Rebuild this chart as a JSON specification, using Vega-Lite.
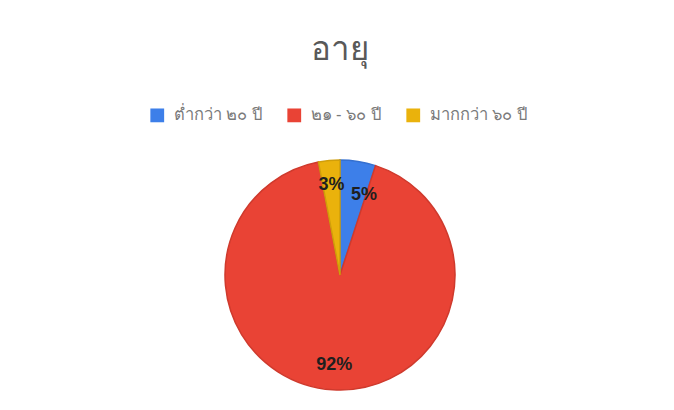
{
  "$schema": "https://vega.github.io/schema/vega-lite/v6.json",
  "width": 660,
  "height": 270,
  "autosize": {"type": "none"},
  "padding": {"left": 10, "top": 140, "right": 4, "bottom": 0},
  "background": "white",
  "title": {"text": "อายุ", "fontSize": 33, "color": "#595959", "fontWeight": "normal", "offset": 40, "anchor": "middle"},
  "data": {"values": [
    {"group": "ต่ำกว่า ๒๐ ปี", "value": 5, "order": 1, "label": "5%"},
    {"group": "๒๑ - ๖๐ ปี", "value": 92, "order": 2, "label": "92%"},
    {"group": "มากกว่า ๖๐ ปี", "value": 3, "order": 3, "label": "3%"}
  ]},
  "encoding": {
    "theta": {"field": "value", "type": "quantitative", "stack": true},
    "order": {"field": "order", "type": "quantitative"}
  },
  "layer": [
    {
      "mark": {"type": "arc", "outerRadius": 115, "strokeWidth": 1.5},
      "encoding": {
        "color": {
          "field": "group", "type": "nominal",
          "scale": {"domain": ["ต่ำกว่า ๒๐ ปี", "๒๑ - ๖๐ ปี", "มากกว่า ๖๐ ปี"], "range": ["#3d7fe9", "#e94335", "#eab20c"]},
          "legend": {"title": null, "orient": "none", "legendX": 139, "legendY": -33, "direction": "horizontal", "symbolType": "square", "symbolSize": 190, "symbolStrokeWidth": 0, "labelFontSize": 16.5, "labelColor": "#7a7a7a", "labelOffset": 8, "columnPadding": 24}
        },
        "stroke": {
          "field": "group", "type": "nominal",
          "scale": {"domain": ["ต่ำกว่า ๒๐ ปี", "๒๑ - ๖๐ ปี", "มากกว่า ๖๐ ปี"], "range": ["#3570d0", "#cf3a2d", "#d09e0a"]},
          "legend": null
        }
      }
    },
    {
      "mark": {"type": "text", "radius": 90, "fontSize": 18, "fontWeight": "bold", "color": "#1f1f1f",
        "dx": {"expr": "datum.label == '5%' ? 10 : 0"},
        "dy": {"expr": "datum.label == '5%' ? 9 : 0"}},
      "encoding": {"text": {"field": "label"}}
    }
  ],
  "config": {"view": {"stroke": null}}
}
